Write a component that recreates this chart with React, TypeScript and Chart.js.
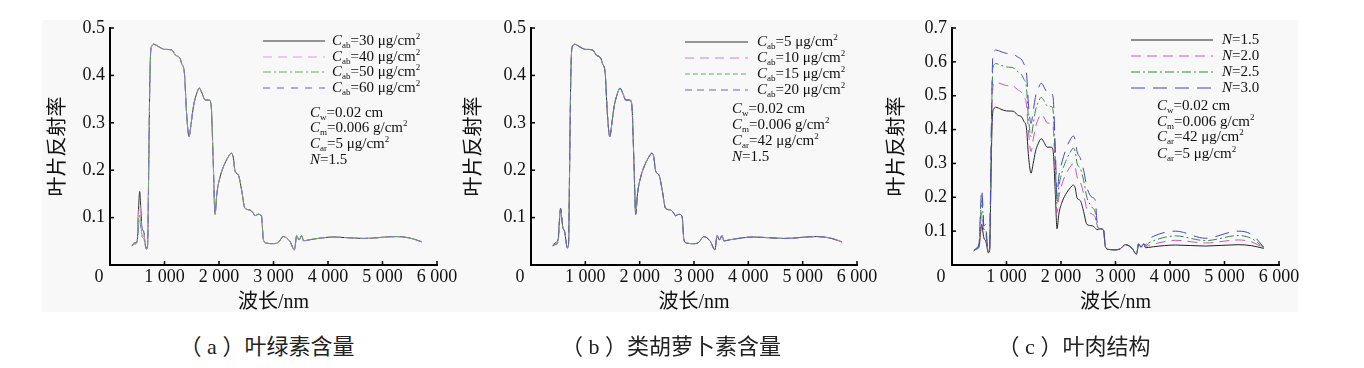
import React, { useEffect, useRef } from 'react';
import { Chart, registerables } from 'chart.js';

Chart.register(...registerables);

// ---------- data (wavelength in nm, reflectance) ----------
const wlVisible = [400, 450, 500, 520, 545, 565, 585, 620, 645, 665, 690];
const wlNir = [
  710, 730, 750, 775, 800, 900, 1000, 1130, 1200, 1285,
  1315, 1365, 1405, 1450, 1490, 1530, 1580, 1640,
  1690, 1745, 1820, 1855, 1895, 1927, 1960, 2020, 2110, 2170,
  2225, 2260, 2295, 2355, 2415, 2475, 2570, 2630, 2660, 2720,
  2780, 2815, 2875, 3000, 3090, 3180, 3300, 3385, 3425, 3468,
  3517, 3550, 3610, 3700, 4100, 4650, 5250, 5500, 5720,
];

// panel (a): chlorophyll
const visCab30 = [0.042, 0.047, 0.052, 0.11, 0.155, 0.12, 0.08, 0.07, 0.045, 0.036, 0.042];
const visCab40 = [0.041, 0.046, 0.05, 0.095, 0.127, 0.1, 0.07, 0.065, 0.043, 0.035, 0.041];
const visCab50 = [0.041, 0.045, 0.049, 0.08, 0.105, 0.088, 0.064, 0.06, 0.042, 0.034, 0.04];
const visCab60 = [0.04, 0.044, 0.048, 0.07, 0.092, 0.078, 0.06, 0.056, 0.04, 0.033, 0.039];

// panel (b): carotenoids
const visCar5 = [0.042, 0.047, 0.055, 0.09, 0.12, 0.1, 0.08, 0.07, 0.05, 0.036, 0.042];
const visCar10 = [0.041, 0.045, 0.052, 0.088, 0.12, 0.1, 0.08, 0.07, 0.05, 0.036, 0.042];
const visCar15 = [0.04, 0.044, 0.05, 0.086, 0.119, 0.1, 0.08, 0.07, 0.05, 0.036, 0.042];
const visCar20 = [0.04, 0.043, 0.048, 0.084, 0.118, 0.1, 0.08, 0.07, 0.05, 0.036, 0.042];

// shared NIR/SWIR part for N = 1.5
const nirN15 = [
  0.2, 0.38, 0.455, 0.463, 0.466, 0.46, 0.455, 0.454, 0.443, 0.436,
  0.425, 0.405, 0.32, 0.271, 0.3, 0.334, 0.358, 0.373,
  0.362, 0.348, 0.348, 0.338, 0.215, 0.107, 0.15, 0.186, 0.215, 0.228,
  0.236, 0.228, 0.198, 0.19, 0.158, 0.12, 0.116, 0.109, 0.104, 0.107,
  0.103, 0.053, 0.046, 0.045, 0.048, 0.06, 0.05, 0.032, 0.062, 0.053,
  0.062, 0.051, 0.052, 0.054, 0.059, 0.056, 0.06, 0.057, 0.049,
];

// panel (c): leaf structure
const visN20 = [0.042, 0.048, 0.06, 0.11, 0.155, 0.13, 0.095, 0.09, 0.055, 0.039, 0.044];
const visN25 = [0.042, 0.049, 0.065, 0.13, 0.19, 0.16, 0.105, 0.105, 0.06, 0.04, 0.046];
const visN30 = [0.042, 0.05, 0.07, 0.15, 0.222, 0.18, 0.115, 0.12, 0.065, 0.041, 0.048];
const nirN20 = [
  0.22, 0.43, 0.525, 0.537, 0.54, 0.535, 0.53, 0.528, 0.518, 0.508,
  0.497, 0.475, 0.39, 0.335, 0.37, 0.405, 0.43, 0.445,
  0.435, 0.42, 0.418, 0.408, 0.27, 0.155, 0.2, 0.24, 0.275, 0.29,
  0.3, 0.29, 0.26, 0.245, 0.21, 0.165, 0.15, 0.14, 0.115, 0.107,
  0.103, 0.053, 0.046, 0.045, 0.048, 0.06, 0.05, 0.032, 0.062, 0.053,
  0.062, 0.053, 0.058, 0.062, 0.073, 0.065, 0.074, 0.068, 0.05,
];
const nirN25 = [
  0.24, 0.47, 0.58, 0.592, 0.595, 0.59, 0.585, 0.582, 0.572, 0.56,
  0.55, 0.525, 0.43, 0.379, 0.415, 0.455, 0.48, 0.495,
  0.485, 0.47, 0.468, 0.455, 0.31, 0.18, 0.23, 0.275, 0.315, 0.333,
  0.345, 0.335, 0.3, 0.285, 0.25, 0.2, 0.17, 0.155, 0.12, 0.107,
  0.103, 0.053, 0.046, 0.045, 0.048, 0.06, 0.05, 0.032, 0.062, 0.053,
  0.062, 0.056, 0.065, 0.072, 0.086, 0.072, 0.087, 0.078, 0.051,
];
const nirN30 = [
  0.26, 0.5, 0.62, 0.632, 0.635, 0.63, 0.625, 0.622, 0.615, 0.605,
  0.595, 0.57, 0.47, 0.418, 0.455, 0.495, 0.52, 0.537,
  0.525, 0.51, 0.508, 0.495, 0.35, 0.205, 0.26, 0.305, 0.35, 0.37,
  0.381, 0.37, 0.335, 0.315, 0.28, 0.23, 0.2, 0.19, 0.13, 0.107,
  0.103, 0.053, 0.046, 0.045, 0.048, 0.06, 0.05, 0.032, 0.062, 0.053,
  0.062, 0.06, 0.075, 0.085, 0.1, 0.079, 0.1, 0.09, 0.053,
];

// legend / annotation texts (mini markup: *italic*, _{sub}, ^{sup})
const legendA = ['*C*_{ab}=30 μg/cm^{2}', '*C*_{ab}=40 μg/cm^{2}', '*C*_{ab}=50 μg/cm^{2}', '*C*_{ab}=60 μg/cm^{2}'];
const legendB = ['*C*_{ab}=5 μg/cm^{2}', '*C*_{ab}=10 μg/cm^{2}', '*C*_{ab}=15 μg/cm^{2}', '*C*_{ab}=20 μg/cm^{2}'];
const legendC = ['*N*=1.5', '*N*=2.0', '*N*=2.5', '*N*=3.0'];
const paramsA = ['*C*_{w}=0.02 cm', '*C*_{m}=0.006 g/cm^{2}', '*C*_{ar}=5 μg/cm^{2}', '*N*=1.5'];
const paramsB = ['*C*_{w}=0.02 cm', '*C*_{m}=0.006 g/cm^{2}', '*C*_{ar}=42 μg/cm^{2}', '*N*=1.5'];
const paramsC = ['*C*_{w}=0.02 cm', '*C*_{m}=0.006 g/cm^{2}', '*C*_{ar}=42 μg/cm^{2}', '*C*_{ar}=5 μg/cm^{2}'];
const xTitle = '波长/nm';
const yTitle = '叶片反射率';
const captions = ['（ a ）叶绿素含量', '（ b ）类胡萝卜素含量', '（ c ）叶肉结构'];
const xTicksMax = 6000;

// ---------- helpers ----------
const SERIF = '"Liberation Serif", "Noto Sans CJK SC", serif';
const wlAll = [...wlVisible, ...wlNir];
const toPoints = (vis: number[], nir: number[]) => {
  const ys = [...vis, ...nir];
  return wlAll.map((x, i) => ({ x, y: ys[i] }));
};

type Seg = { t: string; it?: boolean; sub?: boolean; sup?: boolean };
function parseRich(s: string): Seg[] {
  const segs: Seg[] = [];
  const re = /\*([^*]+)\*|_\{([^}]*)\}|\^\{([^}]*)\}|([^*_^]+)/g;
  let m: RegExpExecArray | null;
  while ((m = re.exec(s))) {
    if (m[1]) segs.push({ t: m[1], it: true });
    else if (m[2]) segs.push({ t: m[2], sub: true });
    else if (m[3]) segs.push({ t: m[3], sup: true });
    else segs.push({ t: m[4] });
  }
  return segs;
}
function drawRich(ctx: CanvasRenderingContext2D, s: string, x: number, y: number, size: number) {
  let cx = x;
  ctx.textBaseline = 'middle';
  ctx.textAlign = 'left';
  for (const g of parseRich(s)) {
    const small = g.sub || g.sup;
    const fs = small ? Math.round(size * 0.6) : size;
    ctx.font = `${g.it ? 'italic ' : ''}${fs}px ${SERIF}`;
    const dy = g.sub ? size * 0.3 : g.sup ? -size * 0.32 : 0;
    ctx.fillText(g.t, cx, y + dy);
    cx += ctx.measureText(g.t).width;
  }
}

const panelDecor = {
  id: 'panelDecor',
  afterDraw(chart: any, _args: any, opts: any) {
    const { ctx, chartArea, scales } = chart;
    const xs = scales.x;
    const ys = scales.y;
    ctx.save();
    // inward tick marks
    ctx.strokeStyle = '#000';
    ctx.lineWidth = 1.5;
    xs.ticks.forEach((t: any) => {
      const px = xs.getPixelForValue(t.value);
      ctx.beginPath();
      ctx.moveTo(px, chartArea.bottom);
      ctx.lineTo(px, chartArea.bottom - 4);
      ctx.stroke();
    });
    ys.ticks.forEach((t: any) => {
      const py = ys.getPixelForValue(t.value);
      ctx.beginPath();
      ctx.moveTo(chartArea.left, py);
      ctx.lineTo(chartArea.left + 4, py);
      ctx.stroke();
    });
    // origin label
    ctx.fillStyle = '#111';
    ctx.font = `18px ${SERIF}`;
    ctx.textAlign = 'center';
    ctx.textBaseline = 'middle';
    ctx.fillText('0', chartArea.left - 11, chartArea.bottom + 1 + 18 * 1.2 / 2);
    // legend
    chart.data.datasets.forEach((ds: any, i: number) => {
      const y = opts.rows[i];
      ctx.save();
      ctx.strokeStyle = ds.borderColor;
      ctx.lineWidth = 1.2;
      ctx.setLineDash(ds.borderDash || []);
      ctx.beginPath();
      ctx.moveTo(opts.lineX0, y);
      ctx.lineTo(opts.lineX1, y);
      ctx.stroke();
      ctx.restore();
      ctx.fillStyle = '#111';
      drawRich(ctx, ds.richLabel, opts.textX, y, 15);
    });
    opts.params.forEach((p: string, i: number) => {
      ctx.fillStyle = '#111';
      drawRich(ctx, p, opts.paramX, opts.paramRows[i], 15);
    });
    ctx.restore();
  },
};

type SeriesDef = { label: string; vis: number[]; nir: number[]; color: string; dash: number[] };
type PanelProps = {
  left: number;
  width: number;
  padLeft: number;
  padRight: number;
  yWidth: number;
  yMax: number;
  series: SeriesDef[];
  legend: any;
};

const CANVAS_H = 330;

function Panel({ left, width, padLeft, padRight, yWidth, yMax, series, legend }: PanelProps) {
  const ref = useRef<HTMLCanvasElement | null>(null);
  useEffect(() => {
    if (!ref.current) return;
    const chart = new Chart(ref.current, {
      type: 'line',
      data: {
        datasets: series.map((s, i) => ({
          label: s.label,
          richLabel: s.label,
          data: toPoints(s.vis, s.nir),
          borderColor: s.color,
          borderDash: s.dash,
          borderWidth: 1,
          pointRadius: 0,
          fill: false,
          order: series.length - i,
          cubicInterpolationMode: 'monotone',
        })) as any,
      },
      options: {
        responsive: false,
        animation: false,
        maintainAspectRatio: false,
        layout: { padding: { left: padLeft, right: padRight, top: 28, bottom: CANVAS_H - 315 } },
        plugins: {
          legend: { display: false },
          tooltip: { enabled: false },
          panelDecor: legend,
        } as any,
        scales: {
          x: {
            type: 'linear',
            min: 0,
            max: xTicksMax,
            afterFit: (s: any) => { s.height = 50; },
            grid: { display: true, drawOnChartArea: false, drawTicks: false },
            border: { display: true, color: '#000', width: 2 },
            ticks: {
              stepSize: 1000,
              autoSkip: false,
              maxRotation: 0,
              padding: 1,
              color: '#111',
              font: { family: SERIF, size: 18 },
              callback: (v: any) => (v === 0 ? '' : String(v).replace(/\B(?=(\d{3})+(?!\d))/g, ' ')),
            },
            title: { display: true, text: xTitle, color: '#111', font: { family: SERIF, size: 20 }, padding: 0 },
          },
          y: {
            type: 'linear',
            min: 0,
            max: yMax,
            afterFit: (s: any) => { s.width = yWidth; },
            grid: { display: true, drawOnChartArea: false, drawTicks: false },
            border: { display: true, color: '#000', width: 2 },
            ticks: {
              stepSize: 0.1,
              padding: 5,
              color: '#111',
              font: { family: SERIF, size: 18 },
              callback: (v: any) => (Math.abs(v) < 1e-9 ? '' : Number(v).toFixed(1)),
            },
            title: { display: true, text: yTitle, color: '#111', font: { family: SERIF, size: 20 }, padding: 0 },
          },
        },
      } as any,
      plugins: [panelDecor],
    });
    return () => chart.destroy();
  }, []);
  return (
    <canvas
      ref={ref}
      width={width}
      height={CANVAS_H}
      style={{ position: 'absolute', left, top: 0, width, height: CANVAS_H }}
    />
  );
}

const seriesA: SeriesDef[] = [
  { label: legendA[0], vis: visCab30, nir: nirN15, color: '#333333', dash: [] },
  { label: legendA[1], vis: visCab40, nir: nirN15, color: '#dd99dd', dash: [9, 6] },
  { label: legendA[2], vis: visCab50, nir: nirN15, color: '#66aa55', dash: [8, 3, 2, 3] },
  { label: legendA[3], vis: visCab60, nir: nirN15, color: '#7b7bd8', dash: [7, 7] },
];
const seriesB: SeriesDef[] = [
  { label: legendB[0], vis: visCar5, nir: nirN15, color: '#333333', dash: [] },
  { label: legendB[1], vis: visCar10, nir: nirN15, color: '#dd77dd', dash: [9, 6] },
  { label: legendB[2], vis: visCar15, nir: nirN15, color: '#66aa66', dash: [5, 3] },
  { label: legendB[3], vis: visCar20, nir: nirN15, color: '#6666bb', dash: [7, 5] },
];
const seriesC: SeriesDef[] = [
  { label: legendC[0], vis: visCar5, nir: nirN15, color: '#222222', dash: [] },
  { label: legendC[1], vis: visN20, nir: nirN20, color: '#cc55bb', dash: [10, 6] },
  { label: legendC[2], vis: visN25, nir: nirN25, color: '#2e8b3e', dash: [9, 3, 2, 3] },
  { label: legendC[3], vis: visN30, nir: nirN30, color: '#4545c0', dash: [14, 8] },
];

export default function App() {
  const captionStyle = (x: number): React.CSSProperties => ({
    position: 'absolute',
    left: x,
    top: 347,
    transform: 'translate(-50%, -50%)',
    whiteSpace: 'nowrap',
    fontFamily: SERIF,
    fontSize: 22,
    lineHeight: 1,
    color: '#222',
  });
  return (
    <div style={{ position: 'fixed', left: 0, top: 0, width: 1364, height: 368, background: '#fff', overflow: 'hidden' }}>
      <div style={{ position: 'absolute', left: 42, top: 20, width: 1256, height: 292, background: '#f8f8f8' }} />
      <Panel
        left={0}
        width={467}
        padLeft={47}
        padRight={30}
        yWidth={63}
        yMax={0.5}
        series={seriesA}
        legend={{ lineX0: 263, lineX1: 325, textX: 332, rows: [41, 57, 72, 88], paramX: 310, paramRows: [113, 128, 144, 160], params: paramsA }}
      />
      <Panel
        left={440}
        width={447}
        padLeft={23}
        padRight={30}
        yWidth={68}
        yMax={0.5}
        series={seriesB}
        legend={{ lineX0: 245, lineX1: 308, textX: 317, rows: [42, 58, 74, 90], paramX: 292, paramRows: [109, 125, 141, 157], params: paramsB }}
      />
      <Panel
        left={880}
        width={429}
        padLeft={6}
        padRight={30}
        yWidth={66}
        yMax={0.7}
        series={seriesC}
        legend={{ lineX0: 251, lineX1: 333, textX: 342, rows: [40, 56, 72, 88], paramX: 277, paramRows: [106, 122, 137, 154], params: paramsC }}
      />
      <div style={captionStyle(267)}>{captions[0]}</div>
      <div style={captionStyle(671)}>{captions[1]}</div>
      <div style={captionStyle(1074)}>{captions[2]}</div>
    </div>
  );
}
